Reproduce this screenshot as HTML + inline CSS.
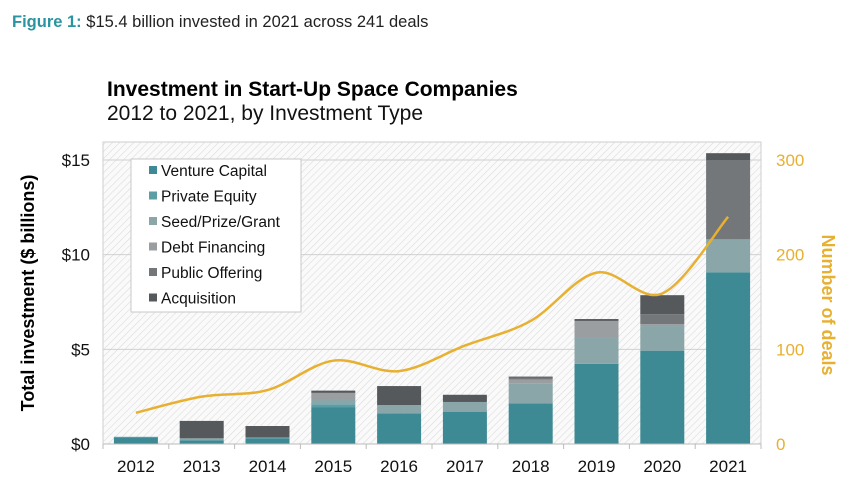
<!DOCTYPE html>
<html><head><meta charset="utf-8">
<style>
body{margin:0;background:#fff;width:855px;height:486px;overflow:hidden;font-family:"Liberation Sans",Arial,sans-serif;}
svg{display:block}
</style></head>
<body>
<svg id="chart" width="855" height="486" font-family="Liberation Sans, Arial, sans-serif">
<defs>
<pattern id="hatch" width="5" height="5" patternUnits="userSpaceOnUse" patternTransform="rotate(45)">
<rect width="5" height="5" fill="#fafafa"/>
<line x1="0" y1="0" x2="0" y2="5" stroke="#dcdcdc" stroke-width="1.2"/>
</pattern>
</defs>
<text x="12" y="27" font-size="16.5"><tspan fill="#2a95a0" font-weight="bold">Figure 1:</tspan><tspan fill="#222"> $15.4 billion invested in 2021 across 241 deals</tspan></text>
<text x="107" y="96" font-size="21" font-weight="bold" fill="#000">Investment in Start-Up Space Companies</text>
<text x="107" y="120" font-size="21" fill="#111">2012 to 2021, by Investment Type</text>
<rect x="103" y="142" width="658" height="302" fill="url(#hatch)" stroke="#cfcfcf"/>
<g id="grid"></g><g id="bars"></g><g id="line"></g><g id="axes"></g>
<text transform="translate(34,293) rotate(-90)" text-anchor="middle" font-size="18" font-weight="bold" fill="#000">Total investment ($ billions)</text>
<text transform="translate(822,305) rotate(90)" text-anchor="middle" font-size="18" font-weight="bold" fill="#e8b030">Number of deals</text>
<g>
<rect x="131" y="159" width="170" height="153" fill="#fff" stroke="#c8c8c8"/>
<g id="legend"></g>
</g>
</svg>
<script>
const years=["2012","2013","2014","2015","2016","2017","2018","2019","2020","2021"];
const seriesNames=["Venture Capital","Private Equity","Seed/Prize/Grant","Debt Financing","Public Offering","Acquisition"];
const vc=[0.35,0.2,0.3,1.95,1.62,1.69,2.15,4.23,4.93,9.07];
const pe=[0.03,0,0.05,0.15,0,0,0,0,0,0];
const seed=[0,0.1,0,0.25,0.44,0.53,1.06,1.37,1.3,1.74];
const debt=[0,0,0,0.35,0,0,0.2,0.9,0.1,0];
const pub=[0,0,0,0,0,0,0.1,0,0.53,4.19];
const acq=[0,0.92,0.6,0.12,1.0,0.38,0.05,0.1,1.0,0.36];
const deals=[33,50,57,88,77,104,130,181,159,240];
const leftTicks=[0,5,10,15];
const rightTicks=[0,100,200,300];
const colors=["#3d8a94","#5b9ea6","#8aa6a9","#9a9ea1","#737779","#55595c"];
const ns="http://www.w3.org/2000/svg";
const X0=103,X1=761,Y0=444,Ytop=160;
const band=(X1-X0)/years.length;
const xc=i=>X0+band*(i+0.5);
const yL=v=>Y0-(Y0-Ytop)*v/15;
const yR=v=>Y0-(Y0-Ytop)*v/300;
function mk(t,a,p){const e=document.createElementNS(ns,t);for(const k in a)e.setAttribute(k,a[k]);p.appendChild(e);return e;}
const grid=document.getElementById('grid'),axes=document.getElementById('axes');
leftTicks.forEach(t=>{
 if(t>0){const l=mk('line',{x1:X0,x2:X1,y1:yL(t),y2:yL(t),stroke:'#d0d0d0'},grid);
 
 }
 const tx=mk('text',{x:90,y:yL(t)+6,'text-anchor':'end','font-size':17,fill:'#111'},axes);tx.textContent='$'+t;
 
 
});
rightTicks.forEach(t=>{
 const tx=mk('text',{x:776,y:yR(t)+6,'font-size':17,fill:'#e8b030'},axes);tx.textContent=t;
 
 
});
mk('line',{x1:X0,x2:X1,y1:Y0,y2:Y0,stroke:'#bbb'},axes);
years.forEach((y,i)=>{
 mk('line',{x1:X0+band*i,x2:X0+band*i,y1:Y0,y2:Y0+5,stroke:'#bbb'},axes);
 const tx=mk('text',{x:xc(i),y:472,'text-anchor':'middle','font-size':17,fill:'#111'},axes);tx.textContent=y;
 
 
});
mk('line',{x1:X1,x2:X1,y1:Y0,y2:Y0+5,stroke:'#bbb'},axes);
const series=[vc,pe,seed,debt,pub,acq];
const bars=document.getElementById('bars');const bw=44;
years.forEach((y,i)=>{
 let base=0;
 series.forEach((s,k)=>{
  const v=s[i];if(v<=0)return;
  const r=mk('rect',{x:xc(i)-bw/2,y:yL(base+v),width:bw,height:yL(base)-yL(base+v),fill:colors[k]},bars);
  
  
  base+=v;
 });
});
// smooth line (catmull-rom)
const pts=deals.map((d,i)=>[xc(i),yR(d)]);
let d='M'+pts[0][0]+','+pts[0][1];
for(let i=0;i<pts.length-1;i++){
 const p0=pts[Math.max(i-1,0)],p1=pts[i],p2=pts[i+1],p3=pts[Math.min(i+2,pts.length-1)];
 const c1=[p1[0]+(p2[0]-p0[0])/6,p1[1]+(p2[1]-p0[1])/6];
 const c2=[p2[0]-(p3[0]-p1[0])/6,p2[1]-(p3[1]-p1[1])/6];
 d+=' C'+c1+' '+c2+' '+p2;
}
const pl=mk('path',{d:d,fill:'none',stroke:'#e8b030','stroke-width':2.5},document.getElementById('line'));


const lg=document.getElementById('legend');
seriesNames.forEach((n,k)=>{
 const yy=171+k*25.5;
 mk('rect',{x:149,y:yy-5,width:8,height:8,fill:colors[k]},lg);
 const t=mk('text',{x:161,y:yy+5,'font-size':15.5,fill:'#111'},lg);t.textContent=n;
 
 
});
</script>
</body></html>
